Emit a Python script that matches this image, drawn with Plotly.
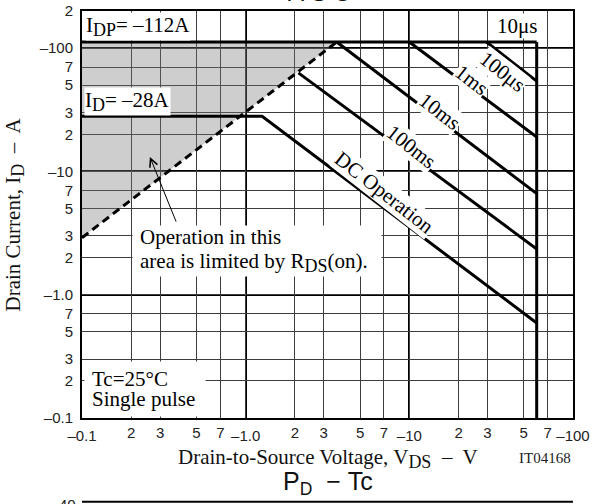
import math
import plotly.graph_objects as go

# ---------------- data ----------------
x_ticks = [0.1, 0.2, 0.3, 0.5, 0.7, 1, 2, 3, 5, 7, 10, 20, 30, 50, 70, 100]
x_labels = ["–0.1", "2", "3", "5", "7", "–1.0", "2", "3", "5", "7",
            "–10", "2", "3", "5", "7", "–100"]
y_ticks = [0.1, 0.2, 0.3, 0.5, 0.7, 1, 2, 3, 5, 7, 10, 20, 30, 50, 70, 100, 200]
y_labels = ["–0.1", "2", "3", "5", "7", "–1.0", "2", "3", "5", "7",
            "–10", "2", "3", "5", "7", "–100", "2"]
decades_x = [1, 10]
decades_y = [1, 10, 100]

# RDS(on) limit (dashed)
rds_v = [0.1, 3.6]
rds_i = [2.9, 112]
# IDP = -112 A (10 us)
p10us_v = [0.1, 60]
p10us_i = [112, 112]
# VDSS limit
vdss_v = [60, 60]
vdss_i = [112, 0.1]
# pulse lines
p100us_v = [29.6, 60]
p100us_i = [112, 54]
p1ms_v = [10, 60]
p1ms_i = [112, 19]
p10ms_v = [3.6, 60]
p10ms_i = [112, 6.6]
p100ms_v = [2.1, 60]
p100ms_i = [63, 2.35]
# DC operation with ID = -28 A plateau
dc_v = [0.1, 1.26, 60]
dc_i = [28, 28, 0.59]

# label anchor points (V, I)
curve_labels = ["DC Operation", "100ms", "10ms", "1ms", "100μs"]
curve_label_v = [7.1, 10.3, 15.5, 24.0, 37.3]
curve_label_i = [6.7, 15.7, 30.5, 55, 64]
label_angle = 38

SERIF = "Liberation Serif, Times New Roman, serif"
SANS = "Liberation Sans, Arial, sans-serif"
lx = math.log10

# decade labels on the x axis sit a little lower in the reference
x_ticktext = [("<sub><span style='font-size:15px'>%s</span></sub>" % t)
              if t.startswith("–") else t for t in x_labels]

fig = go.Figure()

# shaded RDS(on)-limited area
fig.add_trace(go.Scatter(
    x=[rds_v[0], rds_v[1], p10us_v[0], rds_v[0]],
    y=[rds_i[0], rds_i[1], p10us_i[0], rds_i[0]],
    mode="lines", fill="toself", fillcolor="rgba(120,120,120,0.36)",
    line=dict(width=0), hoverinfo="skip"))

line_style = dict(color="black", width=3)
for xs, ys in [(p10us_v, p10us_i), (vdss_v, vdss_i), (p100us_v, p100us_i),
               (p1ms_v, p1ms_i), (p10ms_v, p10ms_i), (p100ms_v, p100ms_i),
               (dc_v, dc_i)]:
    fig.add_trace(go.Scatter(x=xs, y=ys, mode="lines", line=line_style,
                             hoverinfo="skip"))

fig.add_trace(go.Scatter(x=rds_v, y=rds_i, mode="lines",
                         line=dict(color="black", width=3, dash="8px,5px"),
                         hoverinfo="skip"))

fig.update_layout(
    template="none",
    width=603, height=504,
    margin=dict(l=82, r=30, t=11, b=86, autoexpand=False),
    plot_bgcolor="white", paper_bgcolor="white",
    showlegend=False,
    font=dict(family=SERIF, color="black"),
)

axis_common = dict(
    type="log", tickmode="array", showgrid=True, gridcolor="#3c3c3c",
    gridwidth=1, showline=True, linecolor="black", linewidth=2, mirror=True,
    ticks="", zeroline=False, automargin=False,
    tickfont=dict(family=SANS, size=15, color="#222"),
)
fig.update_xaxes(range=[-1, 2], tickvals=x_ticks, ticktext=x_ticktext,
                 ticklabelstandoff=0,
                 minor=dict(tickmode="array", tickvals=decades_x, showgrid=True,
                            gridcolor="black", gridwidth=2, ticks=""),
                 **axis_common)
fig.update_yaxes(range=[-1, lx(200)], tickvals=y_ticks, ticktext=y_labels,
                 ticklabelstandoff=4,
                 minor=dict(tickmode="array", tickvals=decades_y, showgrid=True,
                            gridcolor="black", gridwidth=2, ticks=""),
                 **axis_common)

ann = []
txt_font = dict(family=SERIF, size=21, color="black")

for t, v, i in zip(curve_labels, curve_label_v, curve_label_i):
    ann.append(dict(x=lx(v), y=lx(i), xref="x", yref="y", text=t,
                    showarrow=False, textangle=label_angle, font=txt_font,
                    bgcolor="white", borderpad=0))

ann.append(dict(x=lx(45.7), y=lx(151), xref="x", yref="y", text="10μs",
                showarrow=False, font=txt_font, bgcolor="white", borderpad=0))
ann.append(dict(x=-1, y=lx(149), xref="x", yref="y", xshift=3, xanchor="left",
                text="I<sub><span style='font-size:18px'>DP</span></sub>= –112A",
                showarrow=False, font=txt_font, bgcolor="white", borderpad=0))
ann.append(dict(x=-1, y=lx(36.6), xref="x", yref="y", xshift=2, xanchor="left",
                text="I<sub><span style='font-size:18px'>D</span></sub>= –28A",
                showarrow=False, font=txt_font, bgcolor="white", borderpad=0))
# RDS(on) note: white panel, then two text lines
ann.append(dict(x=lx(1.17), y=lx(2.28), xref="x", yref="y", text=" ",
                width=248, height=50, bgcolor="white", borderpad=0,
                showarrow=False))
ann.append(dict(x=lx(0.22), y=lx(2.95), xref="x", yref="y", xanchor="left",
                text="Operation in this", showarrow=False, font=txt_font))
ann.append(dict(x=lx(0.22), y=lx(1.84), xref="x", yref="y", xanchor="left",
                text="area is limited by R<sub><span style='font-size:18px'>DS</span></sub>(on).",
                showarrow=False, font=txt_font))
ann.append(dict(x=lx(0.26), y=lx(13.1), ax=lx(0.379), ay=lx(3.81),
                xref="x", yref="y", axref="x", ayref="y", text="",
                showarrow=True, arrowhead=5, arrowsize=1.6, arrowwidth=1,
                arrowcolor="black"))
# conditions: white panel, then two text lines
ann.append(dict(x=0, y=0, xref="paper", yref="paper", xshift=1.5, yshift=1.5,
                xanchor="left", yanchor="bottom", text=" ", width=120,
                height=54, bgcolor="white", borderpad=0, showarrow=False))
ann.append(dict(x=-1, y=lx(0.208), xref="x", yref="y", xshift=8, xanchor="left",
                text="Tc=25°C", showarrow=False, font=txt_font))
ann.append(dict(x=-1, y=lx(0.1426), xref="x", yref="y", xshift=8, xanchor="left",
                text="Single pulse", showarrow=False, font=txt_font))
# axis titles
ann.append(dict(x=0.5, y=0, xref="paper", yref="paper", yshift=-40,
                yanchor="middle", showarrow=False,
                text="Drain-to-Source Voltage, V<sub><span style='font-size:18px'>DS</span></sub> \u00a0–\u00a0 V",
                font=dict(family=SERIF, size=21, color="#111")))
ann.append(dict(x=0, y=0.5, xref="paper", yref="paper", xshift=-68,
                xanchor="center", yanchor="middle", textangle=-90,
                showarrow=False,
                text="Drain Current, I<sub><span style='font-size:18px'>D</span></sub> \u00a0–\u00a0 A",
                font=dict(family=SERIF, size=21, color="#111")))
ann.append(dict(x=1, y=0, xref="paper", yref="paper", yshift=-40,
                xanchor="right", yanchor="middle", showarrow=False,
                text="IT04168", font=dict(family=SERIF, size=15, color="#222")))
# next chart title (cropped page) and cropped title of this chart
ann.append(dict(x=0.5, y=0, xref="paper", yref="paper", yshift=-65,
                yanchor="middle", showarrow=False,
                text="P<sub>D</sub>\u00a0\u00a0−\u00a0Tc",
                font=dict(family=SANS, size=25, color="#111")))
ann.append(dict(x=0.485, y=1, xref="paper", yref="paper", yshift=3,
                yanchor="bottom", showarrow=False,
                text="A\u00a0S\u00a0O",
                font=dict(family=SANS, size=24, color="#111")))
ann.append(dict(x=0, y=0, xref="paper", yref="paper", xshift=-4, yshift=-86,
                xanchor="right", yanchor="middle", showarrow=False,
                text="40", font=dict(family=SANS, size=15, color="#222")))
fig.update_layout(annotations=ann)

# top frame of the next chart at the page bottom
fig.add_shape(type="line", xref="paper", yref="paper", x0=0, x1=1,
              y0=-0.206, y1=-0.206, line=dict(color="black", width=2))

fig.write_html("out.html", config={"displayModeBar": False},
               post_script="document.body.style.margin='0px';")
